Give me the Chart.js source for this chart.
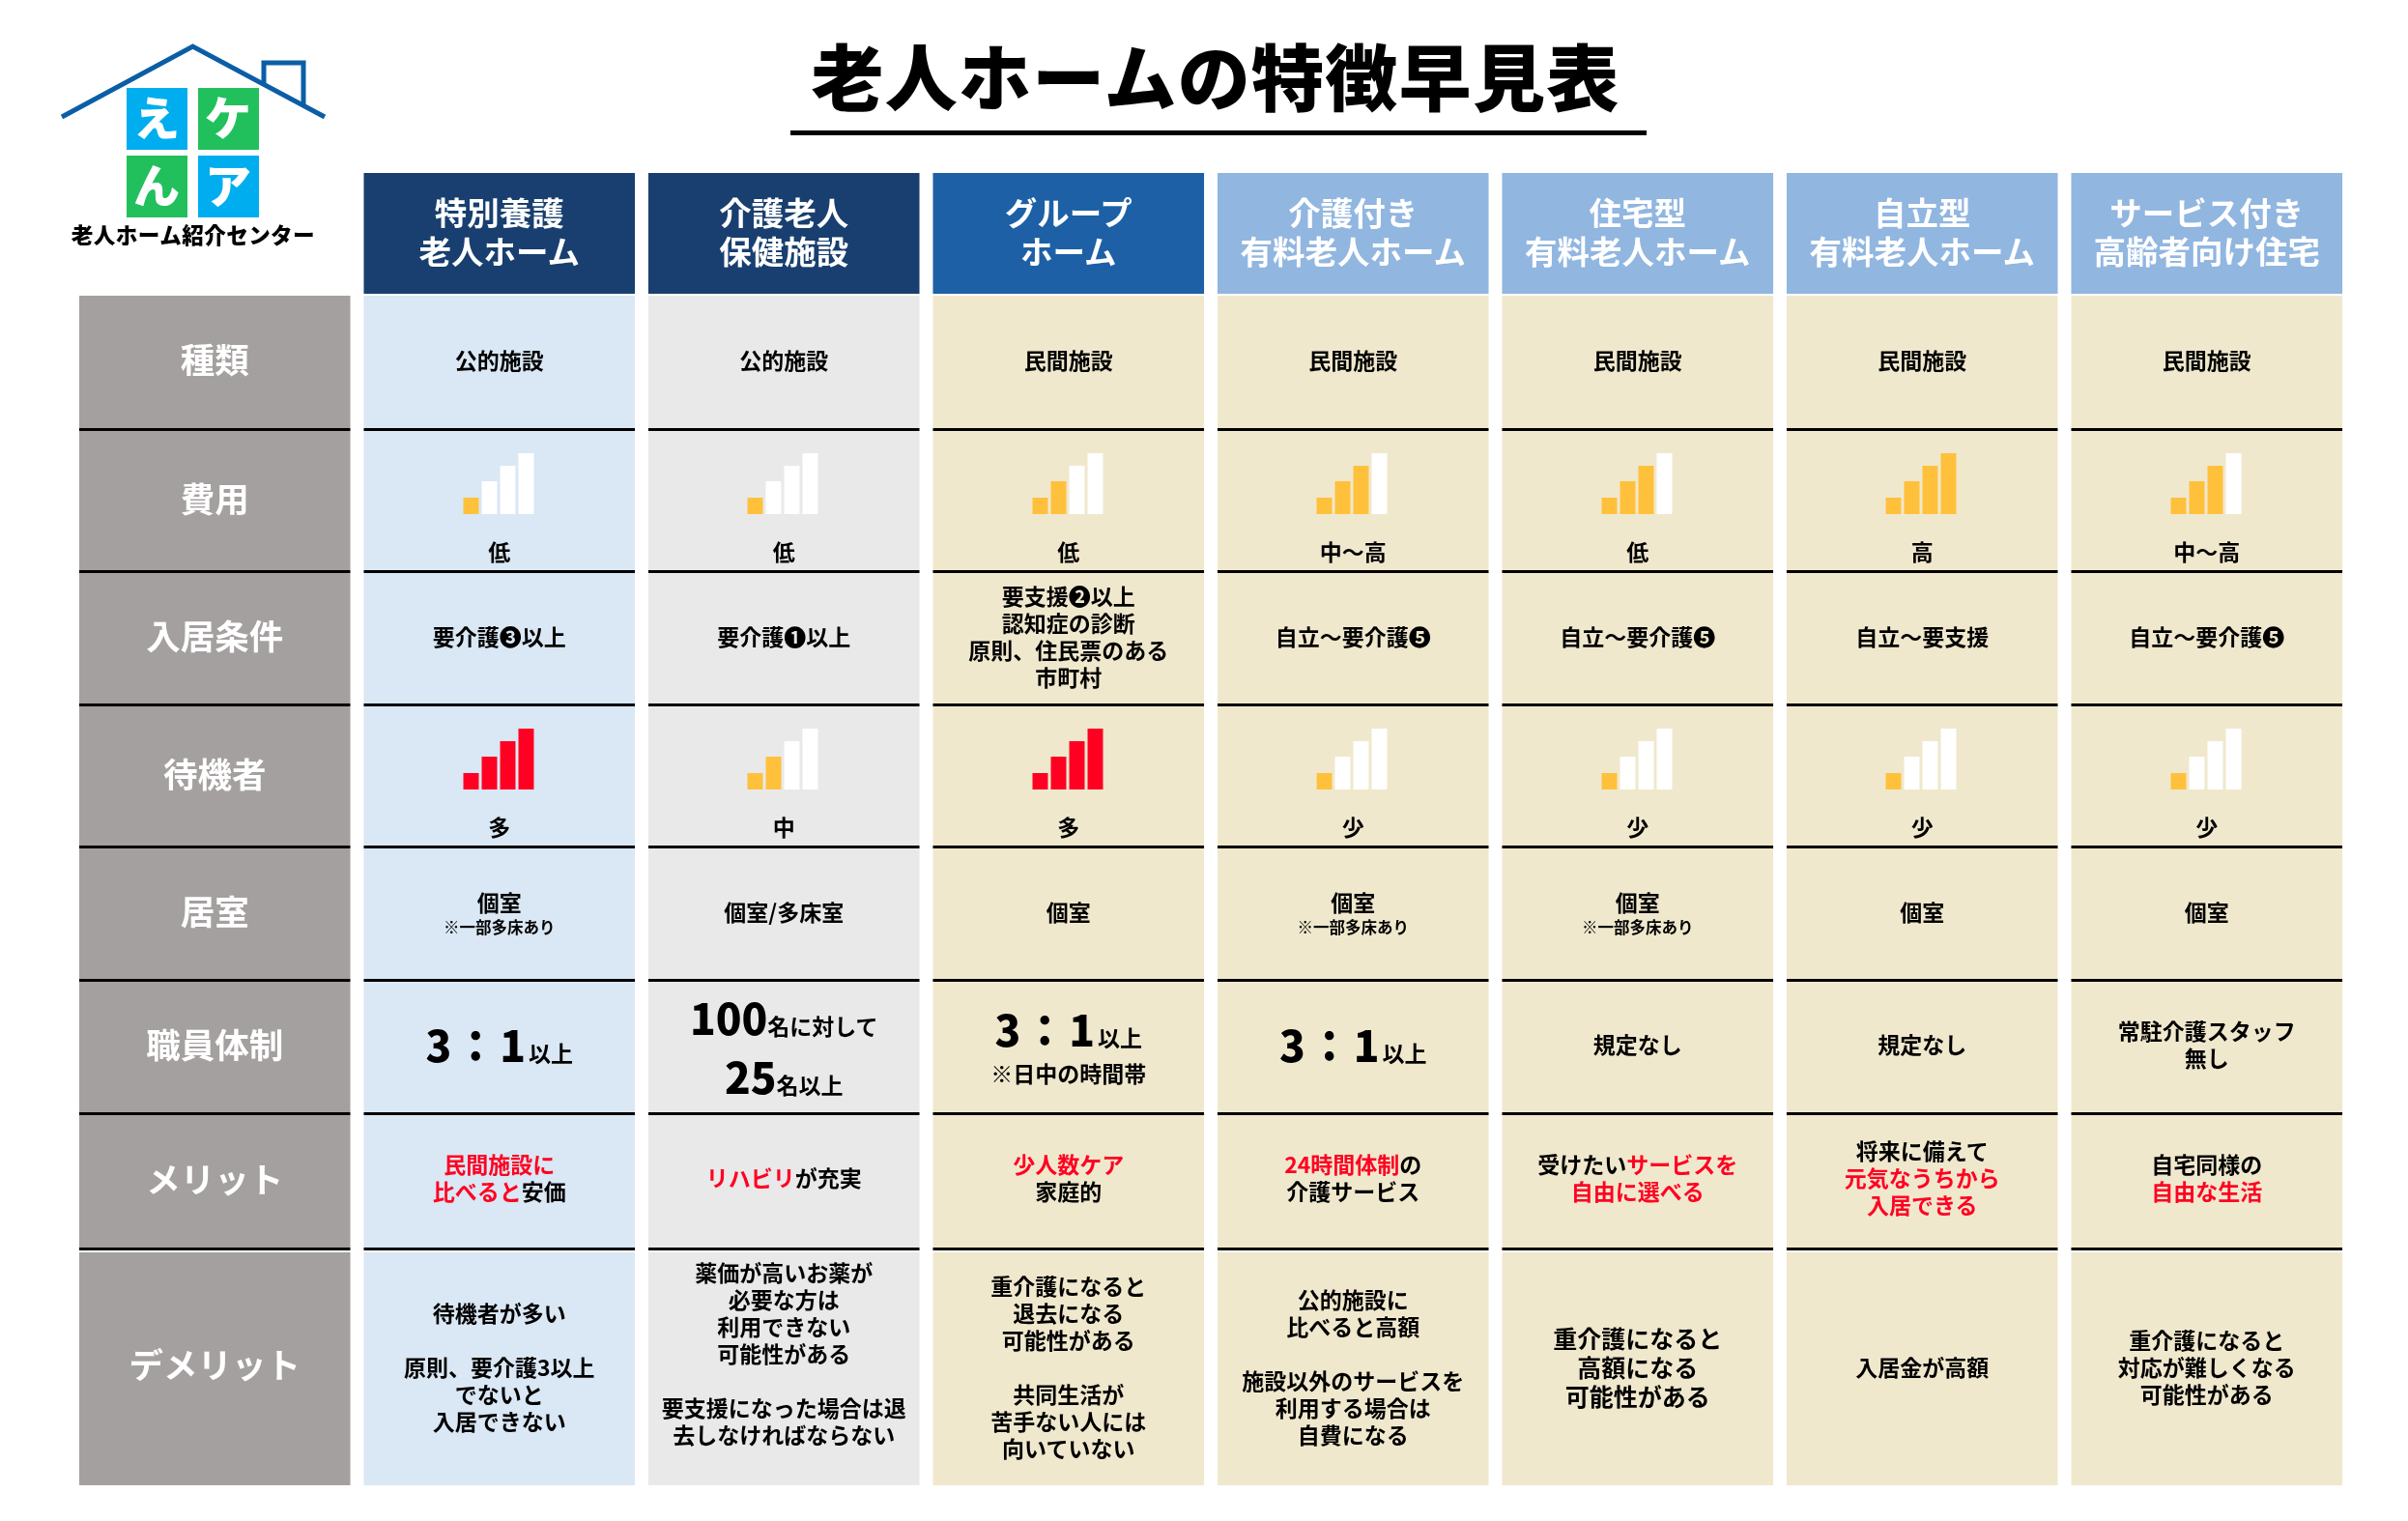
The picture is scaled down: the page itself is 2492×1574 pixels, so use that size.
<!DOCTYPE html>
<html lang="ja">
<head>
<meta charset="utf-8">
<title>老人ホームの特徴早見表</title>
<script src="https://cdn.jsdelivr.net/npm/chart.js@4"></script>
<style>
    html, body { margin: 0; background: #fff; }
    body { font-family: "Noto Sans CJK JP", "Noto Sans", sans-serif; font-weight: 700; color: #000; }
    #page { position: relative; width: 2492px; height: 1574px; overflow: hidden; }
    #page canvas { position: absolute; left: 0; top: 0; }
    h1 { position: absolute; left: 815px; top: 27px; width: 886px; margin: 0; text-align: center; font-size: 75px; line-height: 100px; font-weight: 900; letter-spacing: 1.3px; }
    #rule { position: absolute; left: 818px; top: 135px; width: 886px; height: 5px; background: #000; }
    #logo { position: absolute; left: 0; top: 0; }
    .txt { position: absolute; text-align: center; white-space: pre-line; transform: translateY(-50%); font-size: 23px; line-height: 28px; }
    .head { font-size: 33.5px; line-height: 40px; color: #fff; }
    .side { font-size: 35.5px; line-height: 44px; color: #fff; }
    .lg { font-size: 25px; line-height: 30px; }
    .r { color: #ff0022; }
    .s { display: block; font-size: 16.5px; line-height: 25px; }
    .big { font-size: 44px; line-height: 44px; font-weight: 900; letter-spacing: 3px; }
    .tall { line-height: 64px; }
    .num { font-size: 44px; line-height: 61px; font-weight: 900; }
    .down2 { position: relative; top: 2px; display: block; }
    .down3 { position: relative; top: 3px; display: block; }
    .up2 { position: relative; top: -2px; display: block; }
    .up14 { position: relative; top: -14px; display: block; }
</style>
</head>
<body>
<div id="page">
    <canvas id="grid" width="2492" height="1574"></canvas>
    <h1>老人ホームの特徴早見表</h1>
    <div id="rule"></div>
    <svg id="logo" width="360" height="270" font-family="Noto Sans CJK JP" font-weight="900" text-anchor="middle">
        <path d="M64 121 L199.5 48 L336 121" fill="none" stroke="#0b5ea5" stroke-width="5"/>
        <path d="M273 87 V65 H314 V108" fill="none" stroke="#0b5ea5" stroke-width="5"/>
        <rect x="131" y="91" width="63" height="64" fill="#00aeef"/>
        <rect x="205" y="91" width="63" height="64" fill="#22c05c"/>
        <rect x="131" y="161" width="63" height="64" fill="#22c05c"/>
        <rect x="205" y="161" width="63" height="64" fill="#00aeef"/>
        <g fill="#fff" font-size="48">
            <text x="162" y="140">え</text>
            <text x="236" y="140">ケ</text>
            <text x="162" y="210">ん</text>
            <text x="236" y="210">ア</text>
        </g>
        <text x="200" y="252" font-size="22.6" letter-spacing="0.4" fill="#000">老人ホーム紹介センター</text>
    </svg>
</div>

<script>
// 施設と項目
const facilities = [
    '特別養護\n老人ホーム', '介護老人\n保健施設', 'グループ\nホーム', '介護付き\n有料老人ホーム',
    '住宅型\n有料老人ホーム', '自立型\n有料老人ホーム', 'サービス付き\n高齢者向け住宅'
];
const rowNames = ['種類', '費用', '入居条件', '待機者', '居室', '職員体制', 'メリット', 'デメリット'];

// 表の中身
const kinds = ['公的施設', '公的施設', '民間施設', '民間施設', '民間施設', '民間施設', '民間施設'];
const costLabels = ['低', '低', '低', '中～高', '低', '高', '中～高'];
const costLevels = [1, 1, 2, 3, 3, 4, 3];
const conditions = [
    '要介護❸以上', '要介護❶以上', '要支援❷以上\n認知症の診断\n原則、住民票のある\n市町村',
    '自立～要介護❺', '自立～要介護❺', '自立～要支援', '自立～要介護❺'
];
const waitLabels = ['多', '中', '多', '少', '少', '少', '少'];
const waitLevels = [4, 2, 4, 1, 1, 1, 1];
const rooms = [
    '<span class="down2">個室<span class="s">※一部多床あり</span></span>', '個室/多床室', '個室',
    '<span class="down2">個室<span class="s">※一部多床あり</span></span>',
    '<span class="down2">個室<span class="s">※一部多床あり</span></span>', '個室', '個室'
];
const staffing = [
    '<span class="big">3：1</span>以上',
    '<span class="down3"><span class="num">100</span>名に対して\n<span class="num">25</span>名以上</span>',
    '<span class="up2"><span class="big tall">3：1</span>以上\n※日中の時間帯</span>',
    '<span class="big">3：1</span>以上',
    '規定なし', '規定なし', '常駐介護スタッフ\n無し'
];
const merits = [
    '<span class="r">民間施設に\n比べると</span>安価',
    '<span class="r">リハビリ</span>が充実',
    '<span class="r">少人数ケア</span>\n家庭的',
    '<span class="r">24時間体制</span>の\n介護サービス',
    '受けたい<span class="r">サービスを\n自由に選べる</span>',
    '将来に備えて\n<span class="r">元気なうちから\n入居できる</span>',
    '自宅同様の\n<span class="r">自由な生活</span>'
];
const demerits = [
    '待機者が多い\n\n原則、要介護3以上\nでないと\n入居できない',
    '<span class="up14">薬価が高いお薬が\n必要な方は\n利用できない\n可能性がある\n\n要支援になった場合は退\n去しなければならない</span>',
    '重介護になると\n退去になる\n可能性がある\n\n共同生活が\n苦手ない人には\n向いていない',
    '公的施設に\n比べると高額\n\n施設以外のサービスを\n利用する場合は\n自費になる',
    '<span class="lg">重介護になると\n高額になる\n可能性がある</span>',
    '入居金が高額',
    '重介護になると\n対応が難しくなる\n可能性がある'
];
const rowTexts = [kinds, costLabels, conditions, waitLabels, rooms, staffing, merits, demerits];

// アイコンの棒の高さ
const signalSteps = ['1', '2', '3', '4'];
const signalHeights = [17, 34, 50, 63];

// 見た目
const rowHeights = [127, 140, 147, 138, 147, 138, 138, 140, 243];
const textShifts = [-4, 0, -4, 0, -4, -5, -6, -2];
const headColors = ['#183f6f', '#183f6f', '#1d60a6', '#91b6e0', '#91b6e0', '#91b6e0', '#91b6e0'];
const bodyColors = ['#dae7f4', '#e9e9e9', '#f0e8cd', '#f0e8cd', '#f0e8cd', '#f0e8cd', '#f0e8cd'];
const sideColor = '#a4a09f';
const yellow = '#ffc13b';
const red = '#ff0022';

const page = document.getElementById('page');
const columns = [''].concat(facilities);

function rowBorder(i) {
    if (i === 0) return { width: { bottom: 2 }, color: '#fff' };
    if (i === rowHeights.length - 1) return { width: { top: 2 }, color: '#fff' };
    return { width: { bottom: 3 }, color: '#000' };
}

// 表のセルは積み上げ棒で描く
const grid = new Chart(document.getElementById('grid'), {
    type: 'bar',
    data: {
        labels: columns,
        datasets: rowHeights.map((h, i) => ({
            label: i === 0 ? '施設' : rowNames[i - 1],
            data: columns.map(() => h),
            backgroundColor: i === 0 ? ['rgba(0,0,0,0)'].concat(headColors) : [sideColor].concat(bodyColors),
            borderWidth: rowBorder(i).width,
            borderColor: rowBorder(i).color,
            borderSkipped: false,
            inflateAmount: 0,
            barPercentage: 0.954,
            categoryPercentage: 1
        }))
    },
    options: {
        responsive: false,
        animation: false,
        devicePixelRatio: 1,
        layout: { padding: { left: 75, right: 61, top: 179, bottom: 37 } },
        plugins: { legend: { display: false }, tooltip: { enabled: false } },
        scales: {
            x: { display: false, stacked: true },
            y: { display: false, stacked: true, reverse: true, min: 0, max: rowHeights.reduce((a, b) => a + b, 0) }
        }
    }
});

const barWidth = grid.getDatasetMeta(0).data[1].width;

function addText(html, col, centerY, cls) {
    const el = document.createElement('div');
    el.className = 'txt ' + (cls || '');
    el.innerHTML = html;
    el.style.left = (grid.scales.x.getPixelForValue(col) - barWidth / 2) + 'px';
    el.style.width = barWidth + 'px';
    el.style.top = centerY + 'px';
    page.appendChild(el);
}

function addSignal(col, bottomY, level, color) {
    const canvas = document.createElement('canvas');
    canvas.width = 76;
    canvas.height = 63;
    canvas.style.left = (grid.scales.x.getPixelForValue(col) - 39) + 'px';
    canvas.style.top = (bottomY - 63) + 'px';
    page.appendChild(canvas);
    new Chart(canvas, {
        type: 'bar',
        data: {
            labels: signalSteps,
            datasets: [{
                data: signalHeights,
                backgroundColor: signalHeights.map((_, i) => i < level ? color : '#fff'),
                barPercentage: 0.84,
                categoryPercentage: 1,
                inflateAmount: 0
            }]
        },
        options: {
            responsive: false,
            animation: false,
            devicePixelRatio: 1,
            plugins: { legend: { display: false }, tooltip: { enabled: false } },
            scales: {
                x: { display: false },
                y: { display: false, min: 0, max: Math.max(...signalHeights) }
            }
        }
    });
}

// 文字とアイコンを載せる
let used = 0;
rowHeights.forEach((h, i) => {
    const top = grid.scales.y.getPixelForValue(used);
    const bottom = grid.scales.y.getPixelForValue(used + h);
    const mid = (top + bottom) / 2;
    used += h;

    if (i === 0) {
        facilities.forEach((name, c) => addText(name, c + 1, mid - 4, 'head'));
        return;
    }
    addText(rowNames[i - 1], 0, mid - 5, 'side');

    const hasSignal = rowNames[i - 1] === '費用' || rowNames[i - 1] === '待機者';
    rowTexts[i - 1].forEach((html, c) => {
        if (hasSignal) {
            addText(html, c + 1, top + 124);
        } else {
            addText(html, c + 1, mid + textShifts[i - 1]);
        }
    });
    if (rowNames[i - 1] === '費用') {
        costLevels.forEach((lv, c) => addSignal(c + 1, top + 86, lv, yellow));
    }
    if (rowNames[i - 1] === '待機者') {
        waitLevels.forEach((lv, c) => addSignal(c + 1, top + 86, lv, lv === 4 ? red : yellow));
    }
});
</script>
</body>
</html>
